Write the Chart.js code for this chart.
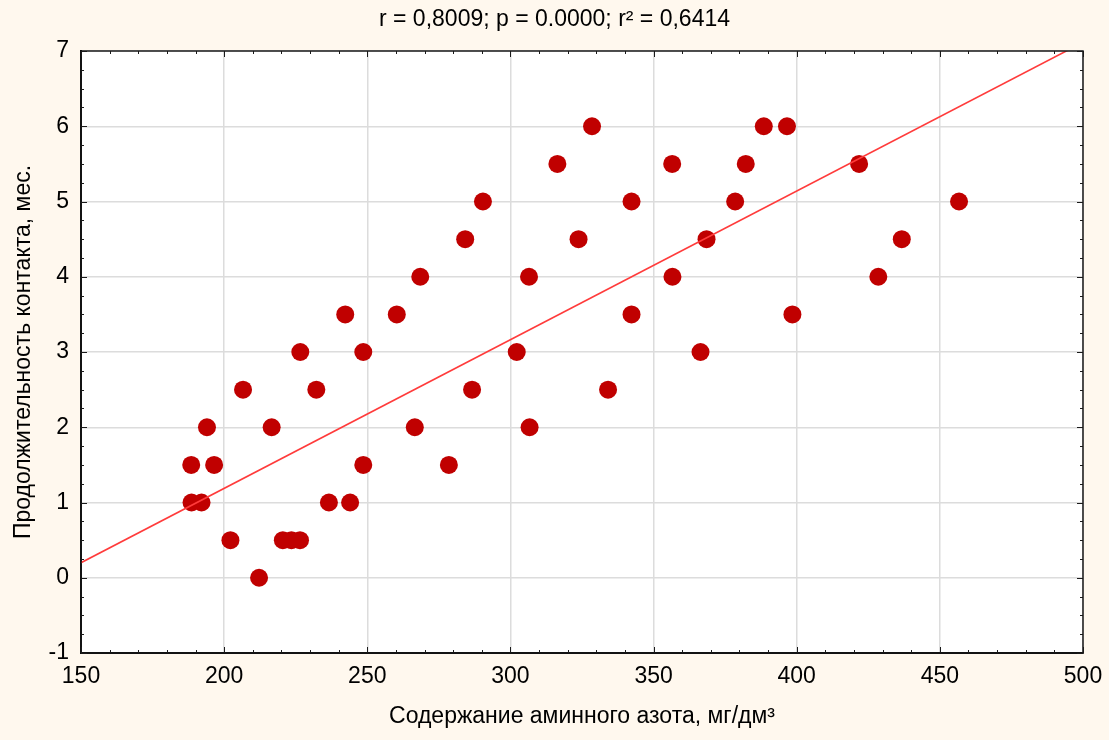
<!DOCTYPE html>
<html>
<head>
<meta charset="utf-8">
<script src="https://cdn.jsdelivr.net/npm/chart.js@4/dist/chart.umd.min.js"></script>
<style>
  html, body { margin: 0; padding: 0; background: #FFF8EE; }
  #wrap { width: 1109px; height: 740px; }
</style>
</head>
<body>
<div id="wrap"><canvas id="c" width="1109" height="740"></canvas></div>
<script>
// Amino nitrogen content (mg/dm³) and contact duration (months) per sample
const aminoNitrogen = [
  328.5, 388.5, 396.6,
  316.4, 356.5, 382.2, 421.8,
  290.4, 342.3, 378.5, 456.7,
  284.2, 323.8, 368.5, 436.7,
  268.5, 306.5, 356.6, 428.5,
  242.3, 260.3, 342.3, 398.5,
  226.6, 248.6, 302.2, 366.4,
  206.6, 232.2, 286.6, 334.1,
  194.0, 216.6, 266.6, 306.7,
  188.5, 196.5, 248.6, 278.5,
  188.6, 192.1, 236.6, 244.0,
  202.2, 220.5, 223.5, 226.5,
  212.2
];
const contactDuration = [
  6, 6, 6,
  5.5, 5.5, 5.5, 5.5,
  5, 5, 5, 5,
  4.5, 4.5, 4.5, 4.5,
  4, 4, 4, 4,
  3.5, 3.5, 3.5, 3.5,
  3, 3, 3, 3,
  2.5, 2.5, 2.5, 2.5,
  2, 2, 2, 2,
  1.5, 1.5, 1.5, 1.5,
  1, 1, 1, 1,
  0.5, 0.5, 0.5, 0.5,
  0
];

// Linear fit y = a + b·x
const fitIntercept = -2.763;
const fitSlope = 0.019756;
const fitRange = [150, 500];

// Axis ranges and tick steps
const xRange = [150, 500];
const yRange = [-1, 7];
const xMajorStep = 50, xMinorStep = 10;
const yMajorStep = 1, yMinorStep = 0.25;

const titleText = 'r = 0,8009; p = 0.0000; r² = 0,6414';
const xTitle = 'Содержание аминного азота, мг/дм³';
const yTitle = 'Продолжительность контакта, мес.';

const points = aminoNitrogen.map((x, i) => ({ x, y: contactDuration[i] }));
const fitLine = fitRange.map(x => ({ x, y: fitIntercept + fitSlope * x }));

const FONT = "'Liberation Sans', Arial, sans-serif";

// White plot area, frame and inward minor/major tick marks
const framePlugin = {
  id: 'frame',
  beforeDraw(chart) {
    const { ctx, chartArea: a } = chart;
    ctx.save();
    ctx.fillStyle = '#FFF8EE';
    ctx.fillRect(0, 0, chart.width, chart.height);
    ctx.fillStyle = '#FFFFFF';
    ctx.fillRect(a.left, a.top, a.right - a.left, a.bottom - a.top);
    ctx.restore();
  },
  afterDraw(chart) {
    const { ctx, chartArea: a, scales } = chart;
    const xs = scales.x, ys = scales.y;
    ctx.save();
    ctx.strokeStyle = '#1A1A1A';
    ctx.lineWidth = 1.5;
    ctx.strokeRect(a.left, a.top, a.right - a.left, a.bottom - a.top);
    ctx.lineWidth = 1;
    ctx.beginPath();
    for (let v = xRange[0]; v <= xRange[1] + 1e-9; v += xMinorStep) {
      const p = Math.round(xs.getPixelForValue(v)) + 0.5;
      const len = Math.abs(v % xMajorStep) < 1e-6 ? 6 : 3;
      ctx.moveTo(p, a.bottom); ctx.lineTo(p, a.bottom - len);
      ctx.moveTo(p, a.top); ctx.lineTo(p, a.top + len);
    }
    for (let v = yRange[0]; v <= yRange[1] + 1e-9; v += yMinorStep) {
      const p = Math.round(ys.getPixelForValue(v)) + 0.5;
      const len = Math.abs(v - Math.round(v)) < 1e-6 ? 6 : 3;
      ctx.moveTo(a.left, p); ctx.lineTo(a.left + len, p);
      ctx.moveTo(a.right, p); ctx.lineTo(a.right - len, p);
    }
    ctx.stroke();
    ctx.restore();
  }
};

new Chart(document.getElementById('c'), {
  type: 'scatter',
  data: {
    datasets: [
      {
        type: 'line',
        data: fitLine,
        borderColor: '#FF3B3B',
        borderWidth: 1.6,
        pointRadius: 0,
        fill: false,
        tension: 0,
        clip: 0
      },
      {
        data: points,
        backgroundColor: '#C00000',
        borderWidth: 0,
        pointRadius: 9,
        pointHoverRadius: 9
      }
    ]
  },
  options: {
    responsive: false,
    animation: false,
    events: [],
    layout: { padding: 0 },
    plugins: {
      legend: { display: false },
      tooltip: { enabled: false },
      title: {
        display: true,
        text: titleText,
        color: '#000000',
        font: { family: FONT, size: 23, weight: 'normal' },
        padding: { top: 6, bottom: 17.4 }
      }
    },
    scales: {
      x: {
        type: 'linear',
        min: xRange[0],
        max: xRange[1],
        afterFit(s) { s.height = 87; s.paddingLeft = 0; s.paddingRight = 26; },
        ticks: {
          stepSize: xMajorStep,
          color: '#000000',
          padding: 10,
          maxRotation: 0,
          font: { family: FONT, size: 23 }
        },
        grid: { color: '#DCDCDC', lineWidth: 1.5, drawTicks: false },
        border: { display: true, color: '#000000', width: 2 },
        title: {
          display: true,
          text: xTitle,
          color: '#000000',
          font: { family: FONT, size: 23 },
          padding: { top: 0, bottom: 10 }
        }
      },
      y: {
        type: 'linear',
        min: yRange[0],
        max: yRange[1],
        afterFit(s) { s.width = 81; s.paddingTop = 0; s.paddingBottom = 0; },
        ticks: {
          stepSize: yMajorStep,
          color: '#000000',
          padding: 12,
          font: { family: FONT, size: 23 }
        },
        grid: { color: '#DCDCDC', lineWidth: 1.5, drawTicks: false },
        border: { display: true, color: '#000000', width: 2 },
        title: {
          display: true,
          text: yTitle,
          color: '#000000',
          font: { family: FONT, size: 23 },
          padding: { top: 10, bottom: 0 }
        }
      }
    }
  },
  plugins: [framePlugin]
});
</script>
</body>
</html>
